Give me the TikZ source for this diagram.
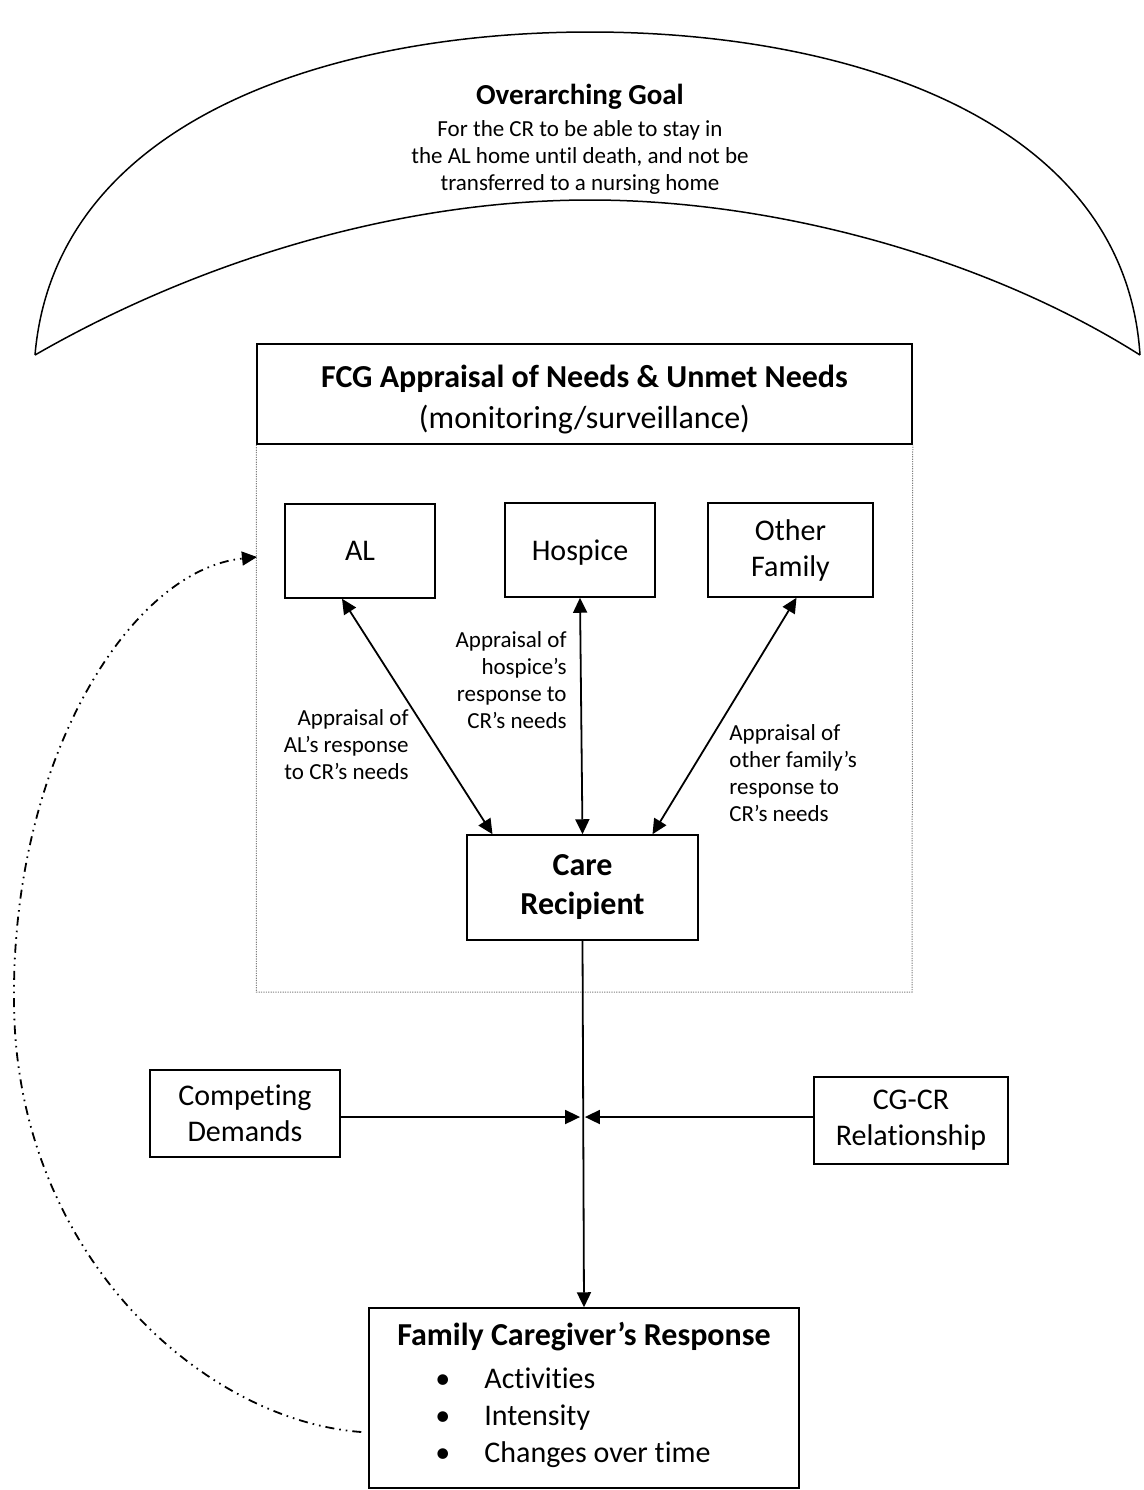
\documentclass[tikz,border=0pt]{standalone}
\usepackage{fontspec}
\setmainfont{Carlito}[Ligatures=NoCommon]
\usetikzlibrary{arrows.meta}

\tikzset{
  box/.style={draw, line width=0.75pt, align=center, inner sep=2pt, font=\fontsize{15}{18}\selectfont},
  note/.style={inner sep=0pt, font=\fontsize{11.5}{13.5}\selectfont},
  link/.style={line width=0.9pt, -{Triangle[length=7.5pt,width=7pt]}},
  twoway/.style={line width=0.9pt, {Triangle[length=7.5pt,width=7pt]}-{Triangle[length=7.5pt,width=7pt]}},
  feedback/.style={line width=0.9pt, dash pattern=on 4.5pt off 2.5pt on 0.8pt off 2.5pt on 0.8pt off 2.5pt, -{Triangle[length=7.5pt,width=7pt]}},
  frameline/.style={gray, line width=0.5pt, dash pattern=on 0.6pt off 0.6pt},
}

\begin{document}
\begin{tikzpicture}[x=0.5pt,y=-0.5pt]
	\useasboundingbox (0,0) rectangle (1144,1490);
	% the goal arc
	\draw[line width=0.75pt] (35,355) .. controls (55,120) and (330,32) .. (590,32) .. controls (850,32) and (1125,120) .. (1140,355);
	\draw[line width=0.75pt] (35,355) .. controls (200,260) and (400,200) .. (590,200) .. controls (780,200) and (990,260) .. (1140,355);
	\node[note, align=center] (goal) at (580,139) {{\bfseries\fontsize{14.5}{15}\selectfont Overarching Goal}\\[2.5pt]For the CR to be able to stay in\\the AL home until death, and not be\\transferred to a nursing home};
	% appraisal box and its frame
	\node[box, minimum width=327.5pt, minimum height=50pt, font=\fontsize{16}{20.5}\selectfont] (fcg) at (584.5,394) {\rule{0pt}{17pt}\textbf{FCG Appraisal of Needs \& Unmet Needs}\\(monitoring/surveillance)};
	\coordinate (framese) at (912,992);
	\draw[frameline] (fcg.south west) |- (framese) -- (fcg.south east);
	% the three providers
	\node[box, minimum width=75pt, minimum height=47pt, text depth=0pt] (al) at (360,551) {AL};
	\node[box, minimum width=75pt, minimum height=47pt, text depth=0pt] (hosp) at (580,550) {Hospice};
	\node[box, minimum width=82.5pt, minimum height=47pt] (fam) at (790.5,550) {Other\\Family};
	\node[box, minimum width=115.5pt, minimum height=52.5pt, font=\bfseries\fontsize{16}{19.5}\selectfont] (cr) at (582.5,887.5) {Care\\Recipient};
	%draw the appraisal arrows
	\draw[twoway] ([xshift=-9pt]al.south) -- ([xshift=-45pt]cr.north);
	\draw[twoway] (hosp.south) -- (cr.north);
	\draw[twoway] ([xshift=3pt]fam.south) -- ([xshift=35pt]cr.north);
	\node[note, anchor=east, align=right] (allbl) at (409,745) {Appraisal of\\AL’s response\\to CR’s needs};
	\node[note, anchor=east, align=right] (hosplbl) at (567,680) {Appraisal of\\hospice’s\\response to\\CR’s needs};
	\node[note, anchor=west, align=left] (famlbl) at (729,773) {Appraisal of\\other family’s\\response to\\CR’s needs};
	% moderators and the response
	\node[box, minimum width=95pt, minimum height=43.5pt] (comp) at (245,1113.5) {Competing\\Demands};
	\node[box, minimum width=97pt, minimum height=43.5pt] (rel) at (911,1120.5) {CG-CR\\Relationship};
	\node[box, minimum width=215pt, minimum height=90pt, font=\fontsize{15}{18.5}\selectfont] (resp) at (584,1398) {{\bfseries\fontsize{16}{20}\selectfont Family Caregiver’s Response}\\[4.5pt]
		\begin{tabular}{@{}l@{\hspace{17pt}}l@{\hspace{11pt}}}\textbullet & Activities\\ \textbullet & Intensity\\ \textbullet & Changes over time\end{tabular}};
	\coordinate (jn) at (582.5,1117);
	\draw[link] (cr.south) -- (resp.north);
	\draw[link] (comp.east |- jn) -- ([xshift=-1.2pt]jn);
	\draw[link] (rel.west |- jn) -- ([xshift=1.2pt]jn);
	% feedback to the providers
	\coordinate (fb) at (257,557);
	\draw[feedback] ([shift={(-3.5pt,-17pt)}]resp.west) .. controls (200,1420) and (14,1250) .. (14,1000) .. controls (12,760) and (130,570) .. (fb);
\end{tikzpicture}
\end{document}
